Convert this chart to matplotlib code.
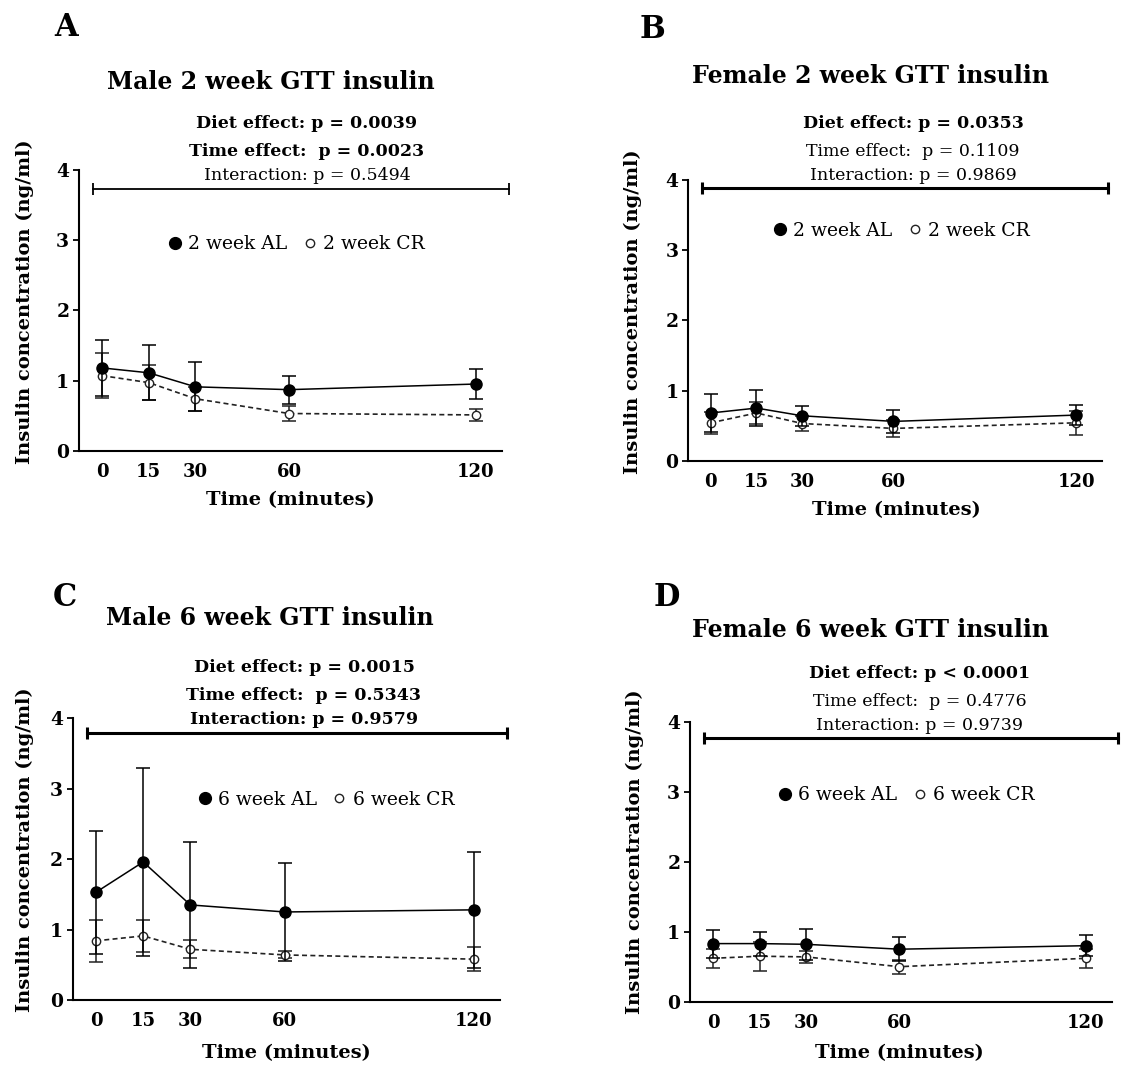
import matplotlib
matplotlib.use('Agg')
import matplotlib.pyplot as plt
from matplotlib.lines import Line2D

plt.rcParams['font.family'] = ['DejaVu Serif']

W, H = 1133, 1065

# data
time = [0, 15, 30, 60, 120]

a_al = [1.18, 1.11, 0.91, 0.87, 0.95]
a_al_err = [0.40, 0.39, 0.35, 0.20, 0.21]
a_cr = [1.07, 0.97, 0.74, 0.53, 0.51]
a_cr_err = [0.32, 0.25, 0.17, 0.11, 0.09]

b_al = [0.68, 0.75, 0.64, 0.56, 0.65]
b_al_err = [0.27, 0.26, 0.14, 0.16, 0.14]
b_cr = [0.54, 0.68, 0.53, 0.46, 0.54]
b_cr_err = [0.16, 0.16, 0.10, 0.12, 0.17]

c_al = [1.53, 1.96, 1.35, 1.25, 1.28]
c_al_err = [0.87, 1.34, 0.89, 0.69, 0.82]
c_cr = [0.84, 0.91, 0.72, 0.64, 0.58]
c_cr_err = [0.30, 0.23, 0.13, 0.05, 0.17]

d_al = [0.83, 0.83, 0.82, 0.75, 0.80]
d_al_err = [0.20, 0.17, 0.22, 0.17, 0.15]
d_cr = [0.62, 0.65, 0.64, 0.50, 0.62]
d_cr_err = [0.14, 0.21, 0.08, 0.10, 0.14]

titles = ['Male 2 week GTT insulin', 'Female 2 week GTT insulin',
          'Male 6 week GTT insulin', 'Female 6 week GTT insulin']
letters = ['A', 'B', 'C', 'D']
legend_labels = [('2 week AL', '2 week CR'), ('2 week AL', '2 week CR'),
                 ('6 week AL', '6 week CR'), ('6 week AL', '6 week CR')]
stats = [
    [('Diet effect: p = 0.0039', 'bold'), ('Time effect:  p = 0.0023', 'bold'), ('Interaction: p = 0.5494', 'normal')],
    [('Diet effect: p = 0.0353', 'bold'), ('Time effect:  p = 0.1109', 'normal'), ('Interaction: p = 0.9869', 'normal')],
    [('Diet effect: p = 0.0015', 'bold'), ('Time effect:  p = 0.5343', 'bold'), ('Interaction: p = 0.9579', 'bold')],
    [('Diet effect: p < 0.0001', 'bold'), ('Time effect:  p = 0.4776', 'normal'), ('Interaction: p = 0.9739', 'normal')],
]
bar_y = [3.73, 3.88, 3.79, 3.77]

panels = [(a_al, a_al_err, a_cr, a_cr_err), (b_al, b_al_err, b_cr, b_cr_err),
          (c_al, c_al_err, c_cr, c_cr_err), (d_al, d_al_err, d_cr, d_cr_err)]

# layout in pixels: axes box (x0, y_top, x1, y_bottom)
boxes = [(79, 170, 502, 450.7), (688.3, 180, 1101.7, 460.7),
         (72.7, 718.3, 500, 1000), (690, 721.7, 1111.7, 1001.7)]
title_pos = [(271, 82), (870, 76), (270, 618), (870, 630)]
letter_pos = [(66, 28), (652, 30), (65, 597), (667, 597)]
stat_pos = [(307, [124, 151, 176]), (913, [124, 151, 176]),
            (304, [667, 695, 720]), (920, [674, 701, 726])]
ylab_pos = [(25, 302), (633, 312), (25, 850), (635, 852)]
xlab_pos = [(290, 500), (896, 510), (286, 1053), (899, 1053)]
leg_pos = [(0.514, 0.735), (0.514, 0.82), (0.592, 0.71), (0.512, 0.737)]
bar_lw = [1.3, 2.2, 2.2, 2.2]


def fx(x):
    return x / W


def fy(y):
    return 1 - y / H


fig = plt.figure(figsize=(W / 100, H / 100), dpi=100)

for i in range(4):
    al, al_err, cr, cr_err = panels[i]
    x0, yt, x1, yb = boxes[i]
    ax = fig.add_axes([fx(x0), fy(yb), (x1 - x0) / W, (yb - yt) / H])

    ax.errorbar(time, al, yerr=al_err, color='black', lw=1.1, marker='o', ms=8,
                mfc='black', capsize=5, elinewidth=1.1, capthick=1.1, zorder=3)
    ax.errorbar(time, cr, yerr=cr_err, color='#222222', lw=1.2, ls=(0, (3, 2)), marker='o', ms=6,
                mfc='white', mec='#222222', capsize=5, elinewidth=1.1, capthick=1.1, zorder=2)

    # significance bar
    ax.plot([-3, 130.5], [bar_y[i], bar_y[i]], color='black', lw=bar_lw[i], clip_on=False)
    ax.plot([-3, 130.5], [bar_y[i], bar_y[i]], ls='none', marker='|', ms=8, mew=bar_lw[i],
            color='black', clip_on=False)

    ax.set_xlim(-7.4, 128.4)
    ax.set_ylim(0, 4)
    ax.set_xticks(time)
    ax.set_yticks([0, 1, 2, 3, 4])
    ax.spines['top'].set_visible(False)
    ax.spines['right'].set_visible(False)
    ax.spines['left'].set_linewidth(1.5)
    ax.spines['bottom'].set_linewidth(1.5)
    ax.tick_params(axis='x', length=0, pad=9, labelsize=13)
    ax.tick_params(axis='y', length=4, width=1.3, pad=3, labelsize=13.5)
    for lab in ax.get_xticklabels() + ax.get_yticklabels():
        lab.set_fontweight('bold')

    handles = [Line2D([], [], ls='none', marker='o', ms=8.5, color='black'),
               Line2D([], [], ls='none', marker='o', ms=6, mfc='white', mec='#222222')]
    ax.legend(handles, legend_labels[i], loc='center', bbox_to_anchor=leg_pos[i], ncol=2,
              frameon=False, fontsize=13.5, handlelength=0.8, handletextpad=0.3,
              columnspacing=0.8, borderpad=0)

    fig.text(fx(title_pos[i][0]), fy(title_pos[i][1]), titles[i], ha='center', va='center',
             fontsize=17, fontweight='bold')
    fig.text(fx(letter_pos[i][0]), fy(letter_pos[i][1]), letters[i], ha='center', va='center',
             fontsize=22, fontweight='bold')
    sx, sys_ = stat_pos[i]
    for (txt, wt), yy in zip(stats[i], sys_):
        fig.text(fx(sx), fy(yy), txt, ha='center', va='center', fontsize=12.5, fontweight=wt)
    fig.text(fx(ylab_pos[i][0]), fy(ylab_pos[i][1]), 'Insulin concentration (ng/ml)', rotation=90,
             ha='center', va='center', fontsize=14, fontweight='bold')
    fig.text(fx(xlab_pos[i][0]), fy(xlab_pos[i][1]), 'Time (minutes)', ha='center', va='center',
             fontsize=14, fontweight='bold')

fig.savefig('out.png', dpi=100)
